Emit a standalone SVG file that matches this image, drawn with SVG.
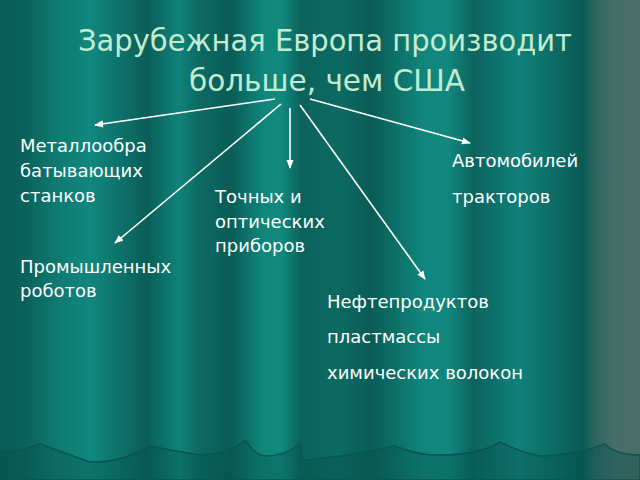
<svg xmlns="http://www.w3.org/2000/svg" width="640" height="480" viewBox="0 0 640 480">
<defs>
<linearGradient id="curtain" x1="0" y1="0" x2="640" y2="0" gradientUnits="userSpaceOnUse">
<stop offset="0" stop-color="#0a5c56"/>
<stop offset="0.04" stop-color="#0b625c"/>
<stop offset="0.09" stop-color="#0f7a72"/>
<stop offset="0.14" stop-color="#11877e"/>
<stop offset="0.17" stop-color="#0f7a72"/>
<stop offset="0.23" stop-color="#0a5e58"/>
<stop offset="0.28" stop-color="#10837a"/>
<stop offset="0.31" stop-color="#0c6a63"/>
<stop offset="0.36" stop-color="#0a5c56"/>
<stop offset="0.41" stop-color="#10857c"/>
<stop offset="0.44" stop-color="#11897f"/>
<stop offset="0.47" stop-color="#0b625c"/>
<stop offset="0.53" stop-color="#0c6a63"/>
<stop offset="0.58" stop-color="#0a5c56"/>
<stop offset="0.66" stop-color="#10857c"/>
<stop offset="0.70" stop-color="#11877e"/>
<stop offset="0.74" stop-color="#0b645e"/>
<stop offset="0.81" stop-color="#10807a"/>
<stop offset="0.84" stop-color="#0e766f"/>
<stop offset="0.91" stop-color="#0a5a55"/>
<stop offset="0.93" stop-color="#2f6661"/>
<stop offset="0.96" stop-color="#476d68"/>
<stop offset="1" stop-color="#4a6c67"/>
</linearGradient>
<marker id="ah" viewBox="0 0 10 10" refX="9" refY="5" markerWidth="9" markerHeight="9" markerUnits="userSpaceOnUse" orient="auto">
<path d="M0,1 L10,5 L0,9 Z" fill="#ffffff"/>
</marker>
<style>
.title{font-family:"DejaVu Sans","Liberation Sans",sans-serif;font-size:30px;fill:#c2ecd2}
.lbl{font-family:"DejaVu Sans","Liberation Sans",sans-serif;font-size:18px;fill:#ffffff}
.conn line{stroke:#ffffff;stroke-width:1.6;marker-end:url(#ah)}
</style>
</defs>
<rect width="640" height="480" fill="url(#curtain)"/>
<path d="M0,452 Q20,452 40,444 Q70,455 90,462 Q120,463 150,446 Q180,452 200,455 Q230,454 245,440 Q255,455 265,456 Q285,456 300,444 L302,460 Q340,458 395,446 Q420,456 440,455 Q480,455 500,442 Q520,452 540,456 Q575,455 605,444 Q615,455 640,455 L640,480 L0,480 Z" fill="#06504b" fill-opacity="0.35" stroke="#0a5550" stroke-width="1.5"/>
<g id="title">
<text class="title" x="78" y="51" textLength="494" lengthAdjust="spacingAndGlyphs">Зарубежная Европа производит</text>
<text class="title" x="189" y="91" textLength="276" lengthAdjust="spacingAndGlyphs">больше, чем США</text>
</g>
<g class="conn" id="connectors">
<line x1="275" y1="99" x2="95" y2="125"/>
<line x1="281" y1="104" x2="115" y2="243"/>
<line x1="290" y1="108" x2="290" y2="168"/>
<line x1="300" y1="105" x2="425" y2="279"/>
<line x1="310" y1="99" x2="470" y2="143"/>
</g>
<g id="n1">
<text class="lbl" x="20" y="152">Металлообра</text>
<text class="lbl" x="20" y="177">батывающих</text>
<text class="lbl" x="20" y="202">станков</text>
</g>
<g id="n2">
<text class="lbl" x="20" y="273">Промышленных</text>
<text class="lbl" x="20" y="297">роботов</text>
</g>
<g id="n3">
<text class="lbl" x="215" y="203">Точных и</text>
<text class="lbl" x="215" y="228">оптических</text>
<text class="lbl" x="215" y="252">приборов</text>
</g>
<g id="n4">
<text class="lbl" x="452" y="167">Автомобилей</text>
<text class="lbl" x="452" y="203">тракторов</text>
</g>
<g id="n5">
<text class="lbl" x="327" y="308">Нефтепродуктов</text>
<text class="lbl" x="327" y="343">пластмассы</text>
<text class="lbl" x="327" y="379">химических волокон</text>
</g>
</svg>
